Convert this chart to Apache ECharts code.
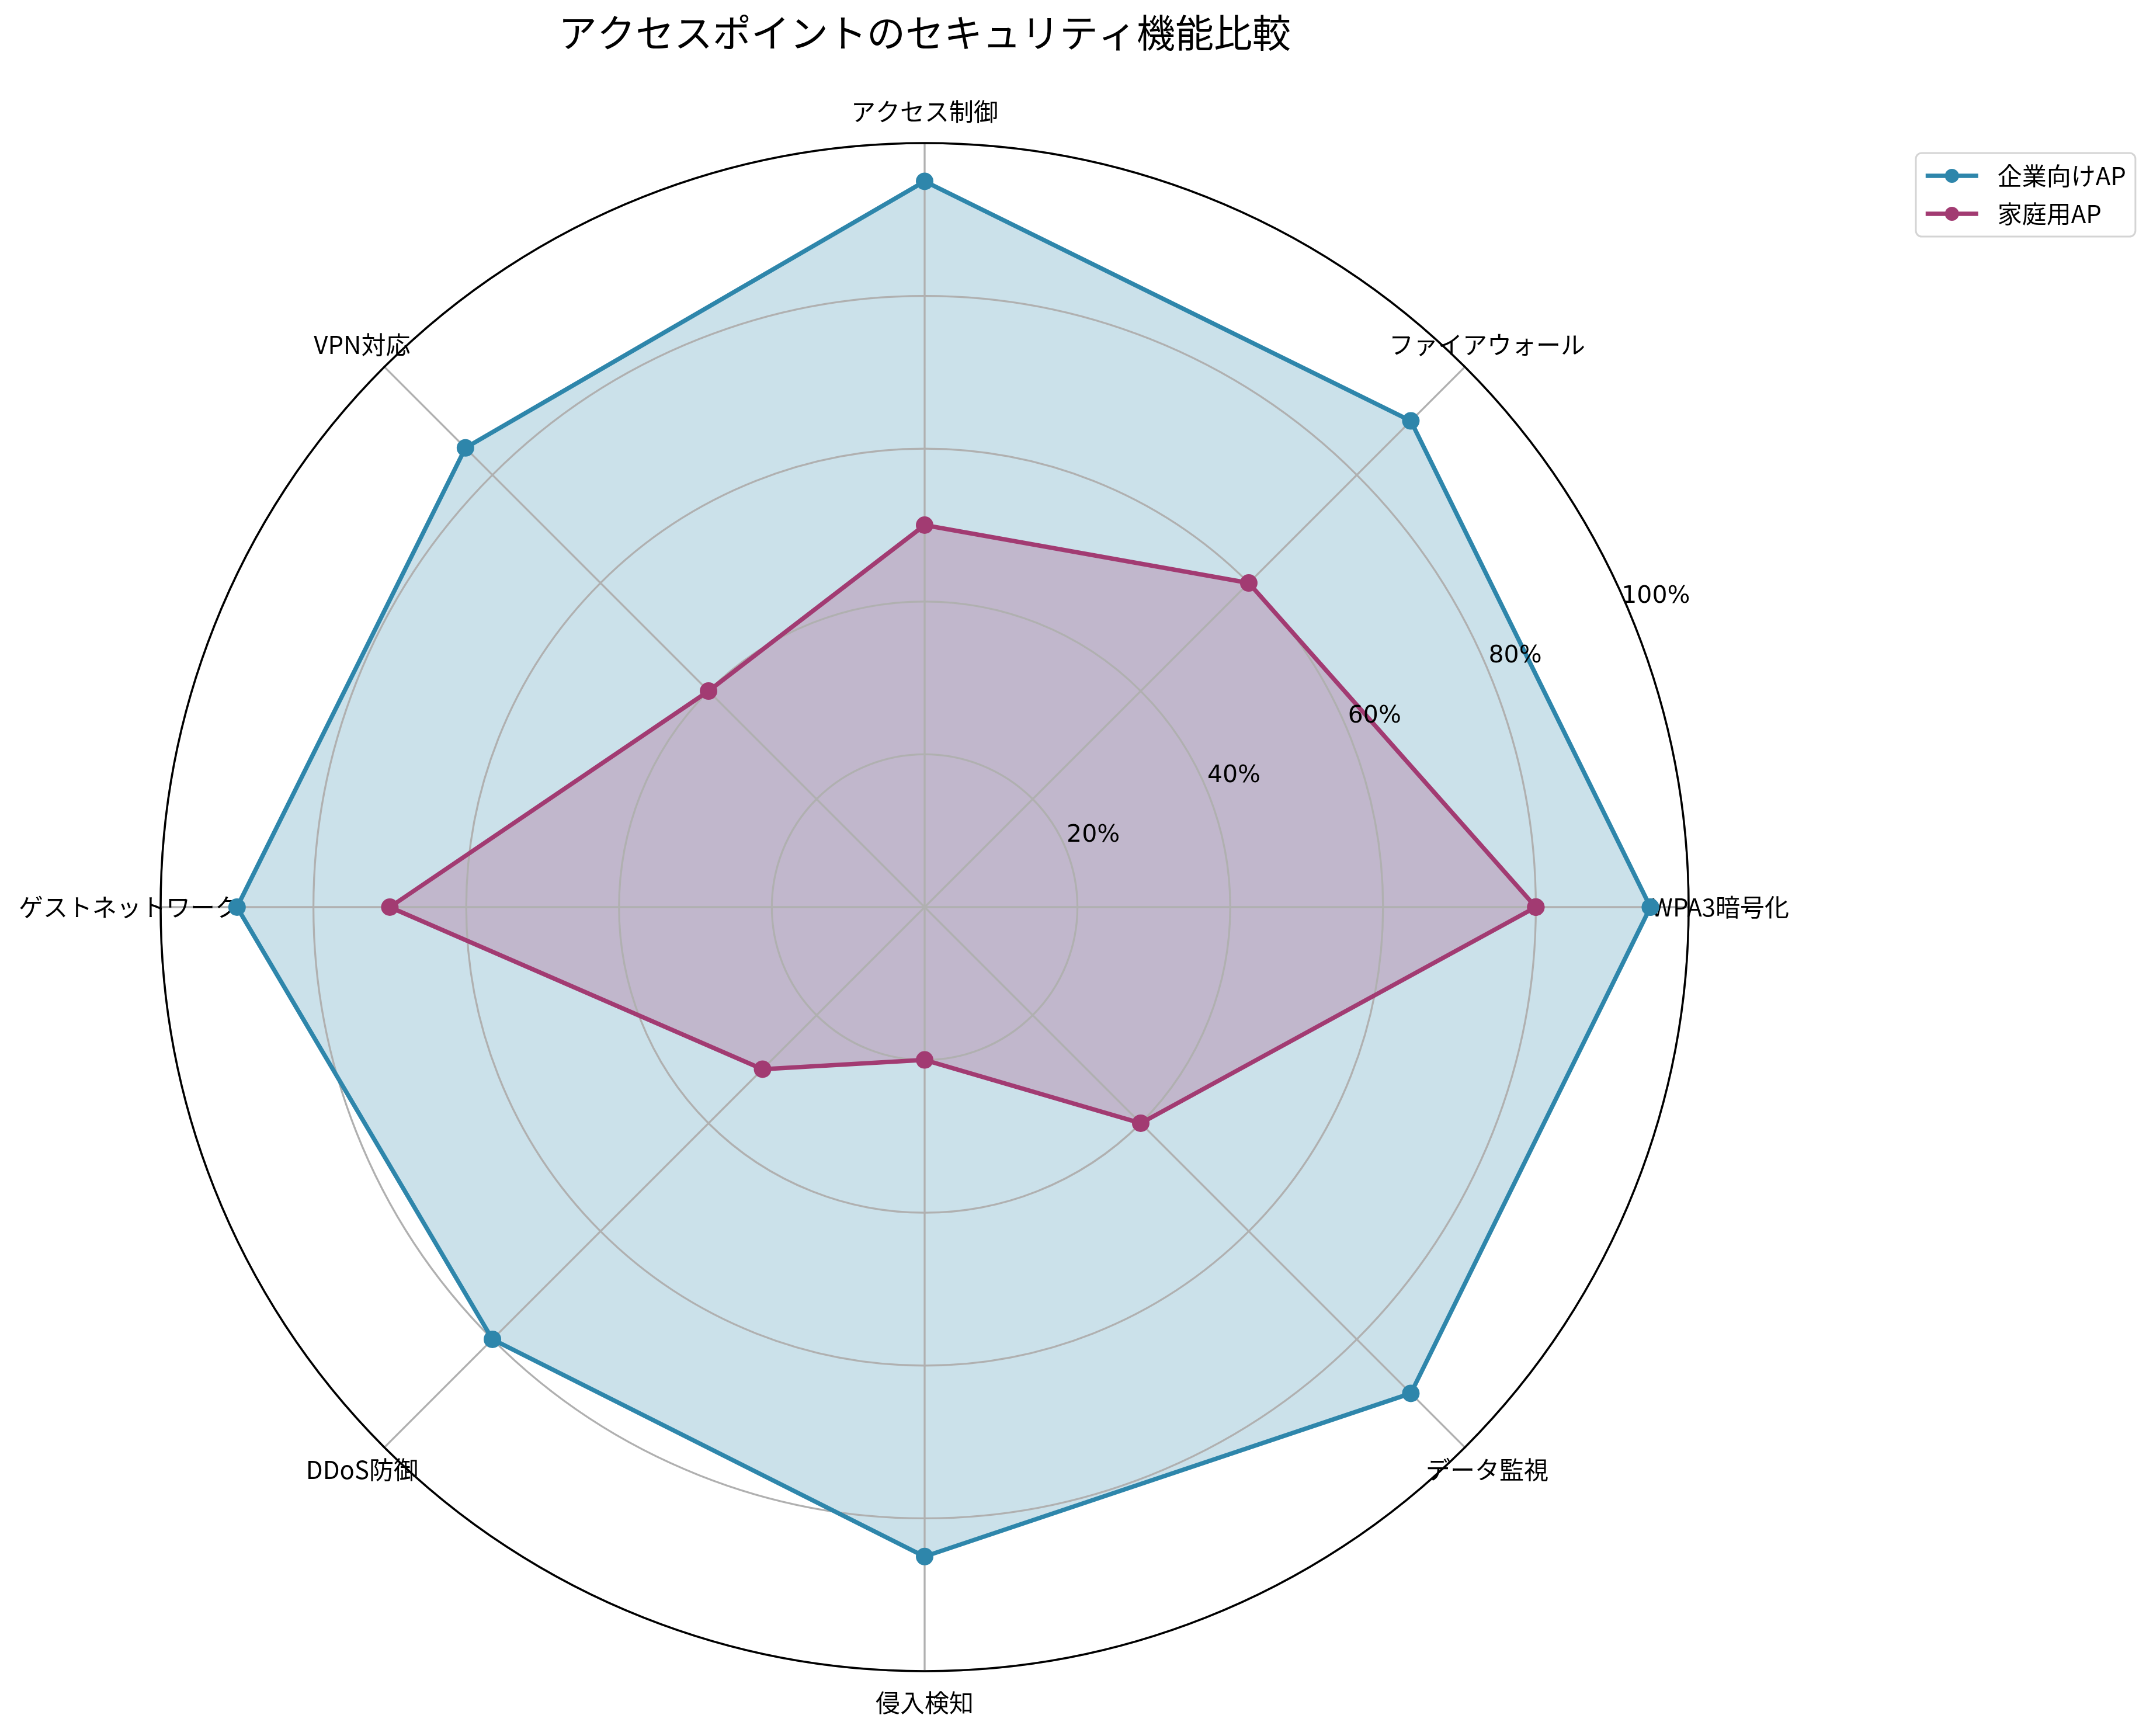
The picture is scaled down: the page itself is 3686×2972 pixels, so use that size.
<!DOCTYPE html>
<html>
<head>
<meta charset="utf-8">
<script src="https://cdn.jsdelivr.net/npm/echarts@6/dist/echarts.min.js"></script>
<style>
html,body{margin:0;padding:0;background:#fff;}
#chart{width:3686px;height:2972px;}
</style>
</head>
<body>
<div id="chart"></div>
<script>
const titleText = 'アクセスポイントのセキュリティ機能比較';
const categories = ['WPA3暗号化', 'ファイアウォール', 'アクセス制御', 'VPN対応', 'ゲストネットワーク', 'DDoS防御', '侵入検知', 'データ監視'];
const enterpriseName = '企業向けAP';
const homeName = '家庭用AP';
const enterpriseValues = [95, 90, 95, 85, 90, 80, 85, 90];
const homeValues = [80, 60, 50, 40, 70, 30, 20, 40];
const radiusTicks = [0, 20, 40, 60, 80, 100];

const enterpriseColor = '#2E86AB';
const homeColor = '#A23B72';
const CJK = "'Noto Sans CJK JP', 'Noto Sans', sans-serif";
const LAT = "'DejaVu Sans', 'Noto Sans CJK JP', sans-serif";

const step = 360 / categories.length;
function closedLoop(values) {
  const pts = values.map((v, i) => [v, i * step]);
  pts.push([values[0], 360]);
  return pts;
}

const center = [1583, 1553];
const R = 1308;
const gridColor = '#b0b0b0';

const chart = echarts.init(document.getElementById('chart'), null, {renderer: 'canvas'});
const option = {
  backgroundColor: '#ffffff',
  animation: false,
  title: {
    text: titleText,
    left: 1578,
    top: 18,
    textAlign: 'center',
    textStyle: {fontFamily: CJK, fontSize: 66, fontWeight: 'normal', color: '#000'}
  },
  legend: {
    orient: 'vertical',
    left: 3280,
    top: 262,
    data: [enterpriseName, homeName],
    itemWidth: 90,
    itemHeight: 30,
    itemGap: 23,
    padding: [18, 16, 18, 13],
    borderColor: '#d4d4d4',
    borderWidth: 3,
    borderRadius: 10,
    backgroundColor: '#fff',
    lineStyle: {width: 7.5},
    textStyle: {fontFamily: CJK, fontSize: 42, lineHeight: 42, color: '#000', padding: [0, 0, 0, 28]}
  },
  polar: [
    {center: center, radius: R},
    {center: center, radius: [52, R + 52]},
    {center: center, radius: R + 54}
  ],
  angleAxis: [
    {
      polarIndex: 0, type: 'value', min: 0, max: 360, interval: step,
      startAngle: 0, clockwise: false, z: 2.5,
      axisLine: {show: true, lineStyle: {color: '#000', width: 3.5}},
      axisTick: {show: false}, axisLabel: {show: false},
      splitLine: {show: true, lineStyle: {color: gridColor, width: 3.3}}
    },
    {polarIndex: 1, type: 'value', min: 0, max: 360, startAngle: 23, clockwise: false, show: false},
    {polarIndex: 2, type: 'value', min: 0, max: 360, startAngle: 0, clockwise: false, show: false}
  ],
  radiusAxis: [
    {
      polarIndex: 0, type: 'value', min: 0, max: 100, interval: 20, z: 2,
      axisLine: {show: false}, axisTick: {show: false}, axisLabel: {show: false},
      splitLine: {show: true, lineStyle: {color: gridColor, width: 3.3}}
    },
    {
      polarIndex: 1, type: 'value', min: 0, max: 100, interval: 20, z: 4,
      axisLine: {show: false}, axisTick: {show: false}, splitLine: {show: false},
      axisLabel: {
        show: true, margin: 0, align: 'center', verticalAlign: 'middle',
        showMinLabel: false,
        formatter: v => radiusTicks.includes(v) ? v + '%' : '',
        fontFamily: LAT, fontSize: 41, color: '#000'
      }
    },
    {polarIndex: 2, type: 'value', min: 0, max: 1, show: false}
  ],
  series: [
    {
      type: 'line', coordinateSystem: 'polar', polarIndex: 0, name: 'enterprise-fill',
      data: closedLoop(enterpriseValues), z: 1, silent: true, symbol: 'none',
      lineStyle: {width: 0, opacity: 0},
      areaStyle: {color: enterpriseColor, opacity: 0.25}
    },
    {
      type: 'line', coordinateSystem: 'polar', polarIndex: 0, name: 'home-fill',
      data: closedLoop(homeValues), z: 1, silent: true, symbol: 'none',
      lineStyle: {width: 0, opacity: 0},
      areaStyle: {color: homeColor, opacity: 0.25}
    },
    {
      type: 'scatter', coordinateSystem: 'polar', polarIndex: 2, name: 'category-labels',
      silent: true, symbolSize: 2, itemStyle: {color: 'rgba(255,255,255,0)'}, z: 2.7,
      data: categories.map((c, i) => ({name: c, value: [1, i * step]})),
      label: {
        show: true, position: 'inside', formatter: '{b}', opacity: 1,
        fontFamily: CJK, fontSize: 42, color: '#000'
      },
      labelLayout: {hideOverlap: false}
    },
    {
      type: 'line', coordinateSystem: 'polar', polarIndex: 0, name: enterpriseName,
      data: closedLoop(enterpriseValues), z: 3,
      symbol: 'circle', symbolSize: 30, showAllSymbol: true,
      itemStyle: {color: enterpriseColor},
      lineStyle: {color: enterpriseColor, width: 7.5}
    },
    {
      type: 'line', coordinateSystem: 'polar', polarIndex: 0, name: homeName,
      data: closedLoop(homeValues), z: 3,
      symbol: 'circle', symbolSize: 30, showAllSymbol: true,
      itemStyle: {color: homeColor},
      lineStyle: {color: homeColor, width: 7.5}
    }
  ]
};
chart.setOption(option);
</script>
</body>
</html>
